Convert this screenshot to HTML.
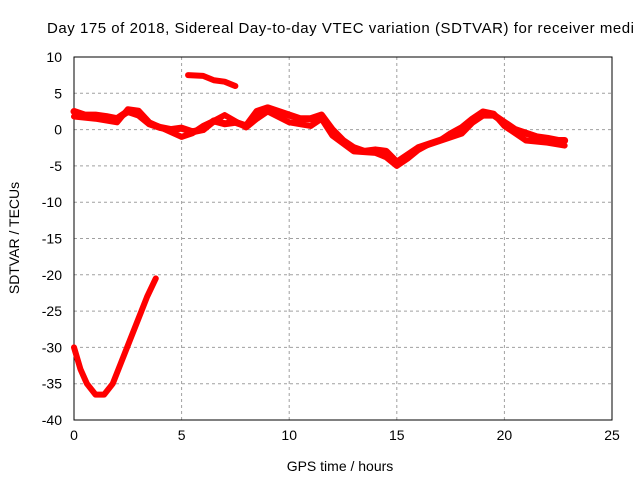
<!DOCTYPE html>
<html><head><meta charset="utf-8"><style>
body{margin:0;background:#fff}
svg{display:block;font-family:"Liberation Sans",sans-serif}
</style></head><body>
<svg id="c" width="640" height="480"></svg>
<script>
const xTicks=[0,5,10,15,20,25];
const yTicks=[10,5,0,-5,-10,-15,-20,-25,-30,-35,-40];
const dipX=[0,0.3,0.6,1,1.4,1.8,2.2,2.6,3,3.4,3.8];
const dipY=[-30,-33,-35,-36.5,-36.5,-35,-32,-29,-26,-23,-20.5];
const topX=[5.3,6,6.5,7,7.5];
const topY=[7.5,7.4,6.8,6.6,6];
const mainX=[0,0.5,1,1.5,2,2.5,3,3.5,4,4.5,5,5.5,6,6.5,7,7.5,8,8.5,9,9.5,10,10.5,11,11.5,12,12.5,13,13.5,14,14.5,15,15.5,16,16.5,17,18,18.5,19,19.5,20,20.5,21,21.5,22,22.5,22.8];
const mainY=[2.5,2,2,1.8,1.5,2.5,2,0.8,0.3,0,0.2,-0.3,0,1.2,0.8,1,0.5,2.5,3,2.5,2,1.5,1.5,2,0,-1.5,-2.5,-3,-2.8,-3,-4.5,-3.5,-2.5,-2,-1.5,-0.5,1,2,2,1,0,-0.5,-1,-1.2,-1.5,-1.5];
const altX=[0,1,2,2.5,3,3.5,5,5.5,6,6.5,7,8,8.5,9,10,11,11.5,12,13,14,14.5,15,15.5,16,16.5,17,17.5,18,18.5,19,19.5,20,21,22,22.8];
const altY=[1.8,1.5,1,2.8,2.6,1,-1,-0.5,0.5,1.2,2,0.3,1.5,2.5,1,0.5,1.5,-0.8,-3,-3.2,-3.8,-5,-4,-2.8,-2,-1.5,-0.5,0.3,1.5,2.5,2.2,0.5,-1.5,-1.8,-2.2];
const X0=74,X1=612,Y0=57,Y1=420;
const sx=v=>X0+(v-0)/25*(X1-X0);
const sy=v=>Y0+(10-v)/50*(Y1-Y0);
const svg=document.getElementById('c');const NS='http://www.w3.org/2000/svg';
function mk(t,a,p){const e=document.createElementNS(NS,t);for(const k in a)e.setAttribute(k,a[k]);(p||svg).appendChild(e);return e;}
xTicks.forEach(v=>{
 const g=mk('line',{x1:sx(v),x2:sx(v),y1:Y0,y2:Y1,stroke:'#a0a0a0','stroke-dasharray':'3,3'});
 
 
 const t=mk('text',{x:sx(v),y:440,'text-anchor':'middle','font-size':14});t.textContent=v;
 
 
});
yTicks.forEach(v=>{
 const g=mk('line',{x1:X0,x2:X1,y1:sy(v),y2:sy(v),stroke:'#a0a0a0','stroke-dasharray':'3,3'});
 
 
 const t=mk('text',{x:62,y:sy(v)+5,'text-anchor':'end','font-size':14});t.textContent=v;
 
 
});
const fr=mk('rect',{x:X0,y:Y0,width:X1-X0,height:Y1-Y0,fill:'none',stroke:'#000'});


function series(xs,ys,name,w){
 const p=mk('polyline',{points:xs.map((x,i)=>sx(x)+','+sy(ys[i])).join(' '),fill:'none',stroke:'#ff0000','stroke-width':w,'stroke-linejoin':'round','stroke-linecap':'round'});
 
 
}
series(dipX,dipY,'series-dip',6);
series(topX,topY,'series-top',6);
series(mainX,mainY,'series-main',7);
series(altX,altY,'series-alt',6);
const tt=mk('text',{x:47,y:33,'font-size':15,textLength:587,lengthAdjust:'spacing'});tt.textContent='Day 175 of 2018, Sidereal Day-to-day VTEC variation (SDTVAR) for receiver medi';


const xl=mk('text',{x:340,y:471,'text-anchor':'middle','font-size':14});xl.textContent='GPS time / hours';


const yl=mk('text',{x:0,y:0,'text-anchor':'middle','font-size':14,transform:'translate(19,238) rotate(-90)'});yl.textContent='SDTVAR / TECUs';


</script>
</body></html>
